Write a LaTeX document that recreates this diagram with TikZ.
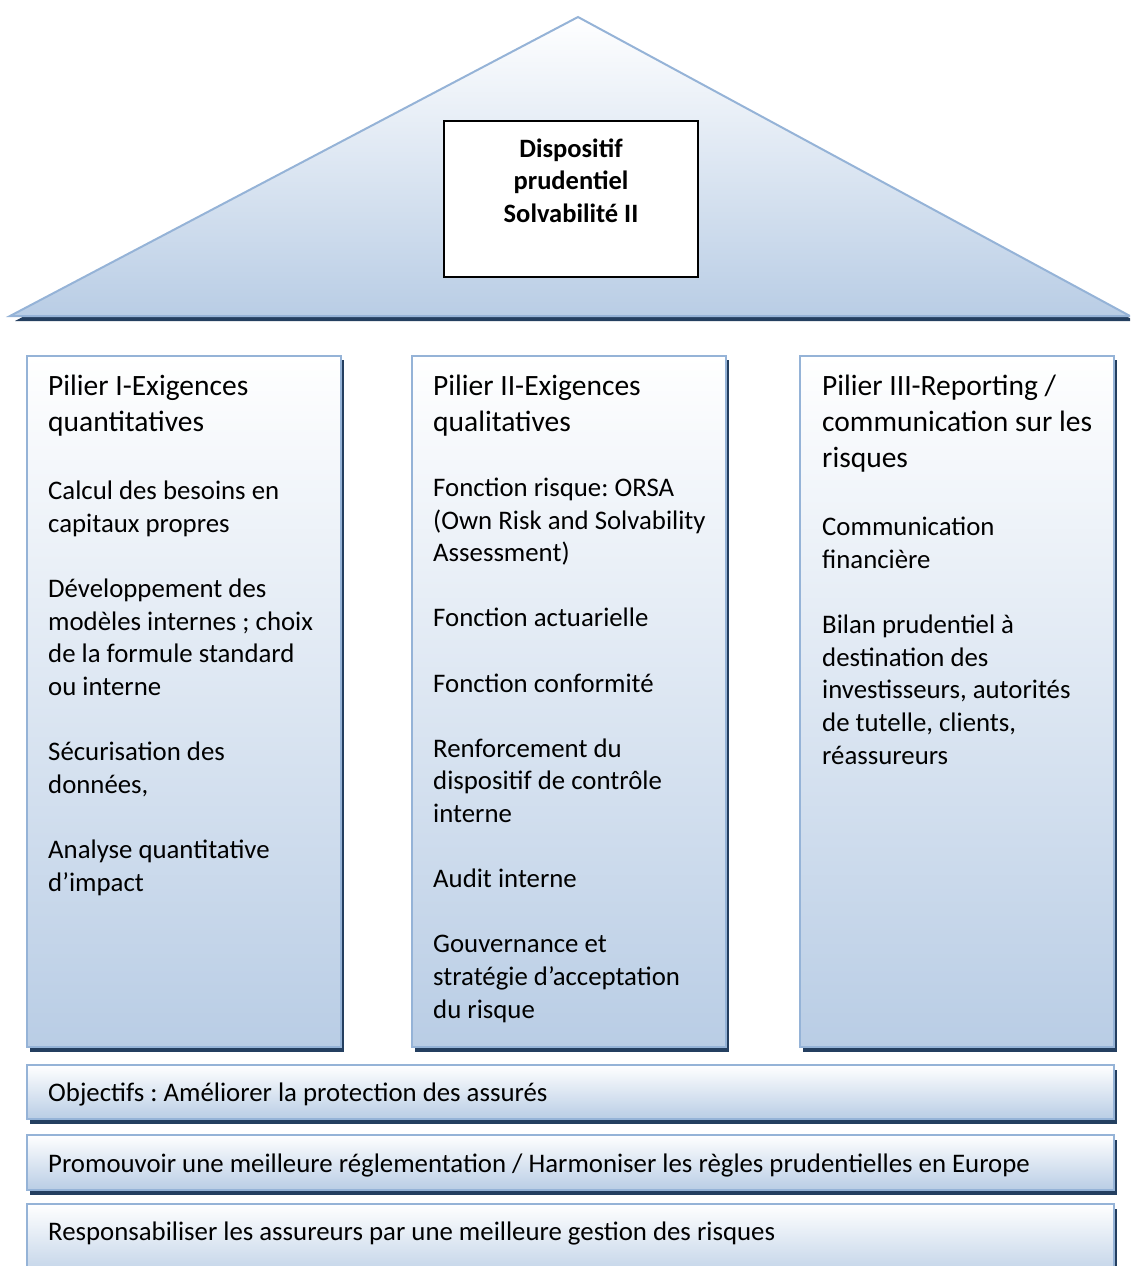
\documentclass[tikz,border=0pt]{standalone}
\usepackage{fontspec}
\setmainfont{Carlito}
\frenchspacing
\definecolor{bordc}{HTML}{95B3D7}
\definecolor{fillc}{HTML}{B9CDE5}
\definecolor{shadc}{HTML}{243F60}
\tikzset{
  panel/.style={draw=bordc, line width=2.2pt, top color=white, bottom color=fillc},
  shad/.style={fill=shadc},
  ttl/.style={anchor=base west, inner sep=0pt, align=left, font=\fontsize{29.5}{36}\selectfont},
  bodytxt/.style={anchor=base west, inner sep=0pt, align=left, font=\fontsize{26.8}{32.6}\selectfont},
}
\begin{document}
\begin{tikzpicture}[x=1pt,y=-1pt]
\useasboundingbox (0,0) rectangle (1130,1266);
\clip (0,0) rectangle (1130,1266);
% roof
\fill[shad] (15,321) -- (583,22) -- (1135,321) -- cycle;
\draw[panel, line width=2pt] (10,316) -- (578,17) -- (1130,316) -- cycle;
\node[draw=black, fill=white, line width=1.6pt, minimum width=254pt, minimum height=156pt, inner sep=0pt] (box) at (571,199) {};
\node[anchor=base, inner sep=0pt, align=center, font=\fontsize{26.5}{32.5}\selectfont\bfseries] (titre) at (571,222) {Dispositif\\prudentiel\\Solvabilité II};
% pillars
\foreach \x in {27,412,800}{
  \fill[shad] (\x+3,360) rectangle (\x+317,1052);
  \draw[panel] (\x,356) rectangle (\x+314,1047);
}
% bars
\foreach \y/\h in {1065/54,1135/55,1204/80}{
  \fill[shad] (30,\y+5) rectangle (1117,\y+\h+5);
  \draw[panel] (27,\y) rectangle (1114,\y+\h);
}
% pillar texts (anchored at the baseline of the last line)
\node[ttl] (t1) at (48,431) {Pilier I-Exigences\\quantitatives};
\node[bodytxt] (b1) at (48,891) {Calcul des besoins en\\capitaux propres\\[32.6pt]Développement des\\modèles internes ; choix\\de la formule standard\\ou interne\\[32.6pt]Sécurisation des\\données,\\[32.6pt]Analyse quantitative\\d’impact};
\node[ttl] (t2) at (433,431) {Pilier II-Exigences\\qualitatives};
\node[bodytxt] (b2) at (433,1018) {Fonction risque: ORSA\\(Own Risk and Solvability\\Assessment)\\[32.6pt]Fonction actuarielle\\[32.6pt]Fonction conformité\\[32.6pt]Renforcement du\\dispositif de contrôle\\interne\\[32.6pt]Audit interne\\[32.6pt]Gouvernance et\\stratégie d’acceptation\\du risque};
\node[ttl] (t3) at (822,467) {Pilier III-Reporting /\\communication sur les\\risques};
\node[bodytxt] (b3) at (822,764) {Communication\\financière\\[32.6pt]Bilan prudentiel à\\destination des\\investisseurs, autorités\\de tutelle, clients,\\réassureurs};
% bar texts
\node[bodytxt] (o1) at (48,1101) {Objectifs : Améliorer la protection des assurés};
\node[bodytxt] (o2) at (48,1172) {Promouvoir une meilleure réglementation / Harmoniser les règles prudentielles en Europe};
\node[bodytxt] (o3) at (48,1240) {Responsabiliser les assureurs par une meilleure gestion des risques};
\end{tikzpicture}
\end{document}
